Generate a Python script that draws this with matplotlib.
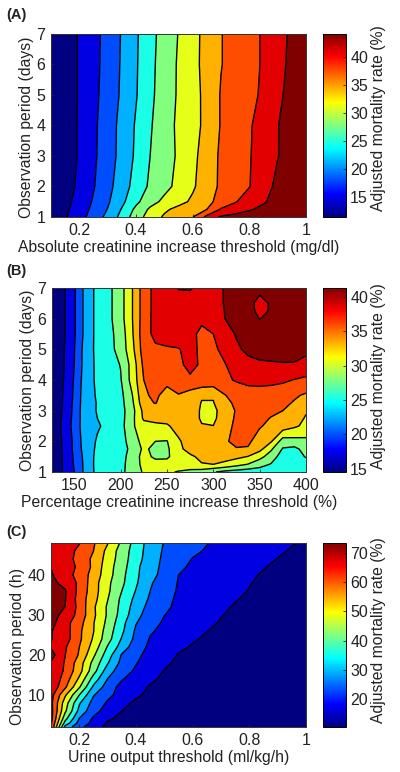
import numpy as np
import matplotlib
matplotlib.use("Agg")
import matplotlib.pyplot as plt
from matplotlib.cm import ScalarMappable
from matplotlib.colors import Normalize, LinearSegmentedColormap

plt.rcParams["font.family"] = ["Liberation Sans", "DejaVu Sans"]

# (A) rate over threshold (columns) and observation period (rows)
a_x = [0.1, 0.15, 0.2, 0.25, 0.3, 0.35, 0.4, 0.45, 0.5, 0.55, 0.6, 0.65, 0.7, 0.75, 0.8, 0.85, 0.9, 0.95, 1.0]
a_y = [1, 1.25, 1.5, 2, 3, 4, 5, 6, 7]
a_z = [
    [12.4, 14.1, 16.3, 18.6, 21.1, 24.3, 27.9, 30.6, 32.6, 33.9, 35.1, 39.0, 41.6, 42.2, 42.8, 43.2, 43.6, 43.9, 44.2],
    [12.2, 13.8, 15.9, 18.1, 20.4, 23.5, 27.0, 29.8, 31.7, 33.0, 34.1, 35.2, 38.5, 39.7, 40.9, 41.9, 43.0, 43.6, 44.2],
    [12.0, 13.5, 15.5, 17.7, 19.9, 22.6, 25.6, 28.2, 30.0, 31.3, 32.7, 34.4, 36.2, 38.0, 39.5, 40.9, 42.3, 43.2, 44.1],
    [11.7, 13.1, 15.0, 17.2, 19.4, 21.8, 24.5, 26.8, 28.4, 30.1, 31.8, 33.8, 35.7, 37.0, 38.1, 40.0, 41.9, 43.0, 44.1],
    [11.5, 12.9, 14.7, 16.9, 19.0, 21.2, 23.8, 26.3, 28.0, 29.7, 31.5, 33.5, 35.7, 36.8, 38.0, 39.6, 41.1, 42.6, 44.0],
    [11.5, 12.9, 14.7, 16.8, 19.0, 21.1, 23.6, 26.0, 28.1, 29.8, 31.3, 32.9, 35.4, 36.6, 37.9, 39.4, 41.1, 42.5, 44.0],
    [11.5, 12.9, 14.65, 16.6, 18.7, 20.7, 23.1, 25.6, 27.9, 29.6, 31.2, 33.0, 35.4, 36.3, 37.4, 38.7, 40.5, 42.3, 44.0],
    [11.5, 12.9, 14.65, 16.5, 18.5, 20.6, 23.0, 25.5, 27.7, 29.6, 31.4, 33.1, 35.1, 36.2, 37.3, 38.5, 40.1, 42.0, 43.8],
    [11.5, 12.9, 14.65, 16.45, 18.4, 20.5, 22.9, 25.35, 27.5, 29.4, 31.3, 33.1, 35.1, 36.2, 37.3, 38.5, 40.0, 41.8, 43.5],
]
a_levels = [14.4, 17.4, 20.3, 23.3, 26.3, 29.3, 32.2, 35.2, 38.2, 41.2]

# (B)
b_x = [125, 137.5, 150, 162.5, 175, 187.5, 200, 212.5, 225, 237.5, 250, 262.5, 275, 287.5, 300, 312.5, 325, 337.5, 350, 362.5, 375, 387.5, 400]
b_y = [1, 1.25, 1.5, 1.75, 2, 2.5, 2.75, 3, 3.25, 3.5, 4, 4.5, 5, 5.5, 6, 6.25, 6.5, 6.75, 7]
b_z = [
    [14.5, 17.0, 19.4, 22.6, 24.9, 25.1, 25.9, 28.1, 29.3, 29.6, 29.5, 28.9, 28.2, 27.9, 26.9, 26.0, 25.6, 25.3, 25.2, 25.0, 24.7, 24.6, 24.5],
    [14.5, 17.0, 19.6, 22.6, 25.0, 25.2, 25.9, 27.9, 29.7, 30.1, 30.3, 30.6, 31.1, 31.5, 31.6, 31.0, 30.0, 29.0, 27.8, 26.5, 25.1, 25.0, 25.4],
    [14.5, 17.0, 19.7, 22.7, 24.9, 25.2, 25.9, 27.6, 30.0, 28.6, 28.6, 30.8, 31.3, 32.0, 32.3, 32.6, 32.2, 31.5, 29.8, 28.0, 25.4, 25.4, 26.9],
    [14.5, 17.1, 19.9, 23.0, 24.6, 25.2, 25.9, 27.2, 29.6, 28.4, 28.6, 31.2, 32.2, 32.8, 33.2, 33.6, 33.9, 33.8, 32.4, 29.4, 26.5, 26.1, 27.6],
    [14.5, 17.1, 19.9, 23.2, 24.4, 25.2, 26.0, 27.5, 30.2, 29.1, 29.0, 31.3, 32.7, 33.0, 33.3, 33.8, 34.4, 34.4, 33.0, 31.8, 27.9, 28.2, 28.5],
    [14.5, 17.4, 20.2, 23.4, 24.0, 24.7, 25.8, 28.7, 30.6, 31.0, 31.3, 32.5, 33.3, 31.7, 31.62, 33.0, 34.6, 35.0, 34.2, 33.4, 33.0, 32.0, 31.0],
    [14.5, 17.2, 20.1, 23.4, 24.2, 24.9, 25.8, 28.4, 32.0, 32.4, 32.4, 32.6, 32.4, 31.4, 31.3, 32.4, 34.5, 35.0, 34.5, 33.9, 33.3, 32.5, 31.4],
    [14.5, 17.1, 20.0, 23.5, 24.3, 25.0, 25.8, 28.2, 32.3, 32.5, 32.5, 32.6, 32.4, 31.4, 31.3, 32.2, 34.3, 34.9, 34.7, 34.4, 34.0, 33.3, 31.8],
    [14.5, 17.0, 19.9, 23.4, 24.3, 25.1, 25.9, 28.6, 33.3, 34.1, 32.9, 33.2, 32.7, 31.5, 31.5, 33.0, 34.7, 35.1, 35.0, 34.8, 34.5, 33.8, 32.9],
    [14.5, 16.9, 19.8, 23.4, 24.4, 25.2, 26.0, 29.0, 33.7, 34.4, 33.2, 33.9, 33.0, 31.8, 31.8, 33.9, 35.0, 35.4, 35.4, 35.3, 34.9, 34.3, 33.7],
    [14.5, 16.7, 19.6, 23.2, 24.6, 25.5, 26.5, 30.0, 34.0, 34.8, 34.6, 35.1, 35.9, 36.0, 35.7, 36.0, 36.6, 37.0, 37.1, 37.0, 36.8, 36.3, 35.8],
    [14.5, 16.5, 19.4, 23.0, 24.7, 25.7, 26.8, 30.0, 34.6, 35.3, 35.5, 35.8, 37.2, 36.0, 35.6, 36.3, 37.4, 38.2, 38.6, 38.7, 38.8, 38.8, 38.5],
    [14.5, 16.5, 19.3, 23.0, 24.8, 26.0, 27.5, 30.9, 35.2, 36.0, 36.2, 36.3, 37.0, 36.0, 36.0, 37.0, 38.5, 39.4, 39.6, 39.6, 39.5, 39.4, 39.2],
    [14.5, 16.3, 19.1, 22.7, 24.9, 26.1, 27.6, 31.3, 35.4, 37.0, 37.2, 37.4, 37.0, 35.9, 36.4, 37.8, 39.1, 39.6, 39.9, 40.0, 40.2, 40.4, 40.6],
    [14.5, 16.3, 19.1, 22.7, 24.9, 26.2, 28.1, 31.5, 35.2, 37.2, 37.6, 37.8, 37.6, 36.8, 37.6, 38.9, 39.5, 39.7, 38.85, 39.4, 40.0, 40.4, 40.7],
    [14.5, 16.3, 19.1, 22.7, 24.9, 26.2, 28.1, 31.5, 35.2, 37.1, 37.7, 37.9, 37.8, 37.4, 37.9, 38.95, 39.55, 39.6, 38.4, 39.1, 40.1, 40.5, 40.8],
    [14.5, 16.3, 19.1, 22.7, 24.9, 26.2, 28.1, 31.5, 35.2, 37.1, 37.8, 38.1, 38.1, 38.1, 38.3, 39.0, 39.6, 39.5, 38.3, 39.1, 40.2, 40.6, 40.9],
    [14.5, 16.3, 19.1, 22.7, 24.9, 26.2, 28.1, 31.5, 35.2, 37.1, 37.9, 38.5, 38.5, 38.1, 38.3, 39.0, 39.65, 39.9, 38.85, 39.8, 40.3, 40.7, 41.0],
    [14.5, 16.3, 19.1, 22.7, 24.9, 26.2, 28.1, 31.5, 35.2, 37.1, 38.0, 39.0, 39.1, 38.2, 38.4, 39.0, 39.7, 40.3, 40.5, 40.4, 40.5, 40.8, 41.0],
]
b_levels = [16.9, 19.4, 21.8, 24.2, 26.7, 29.1, 31.6, 34.0, 36.4, 38.9]

# (C)
c_x = a_x
c_y = [2, 3, 4, 6, 8, 10, 12, 14, 16, 18, 20, 22, 24, 26, 28, 30, 32, 34, 36, 38, 40, 42, 44, 46, 48]
c_z = [
    [62.0, 31.3, 23.6, 18.4, 14.7, 13.3, 12.2, 11.4, 11.0, 10.7, 10.5, 10.4, 10.4, 10.4, 10.4, 10.4, 10.4, 10.4, 10.4],
    [63.0, 36.9, 25.7, 20.3, 15.5, 14.0, 12.8, 12.0, 11.3, 10.8, 10.5, 10.4, 10.4, 10.4, 10.4, 10.4, 10.4, 10.4, 10.4],
    [64.0, 40.6, 27.2, 21.0, 16.8, 14.8, 13.4, 12.4, 11.6, 11.0, 10.6, 10.4, 10.4, 10.4, 10.4, 10.4, 10.4, 10.4, 10.4],
    [64.0, 45.8, 31.5, 23.8, 19.6, 16.1, 14.4, 13.0, 12.0, 11.3, 10.8, 10.5, 10.4, 10.4, 10.4, 10.4, 10.4, 10.4, 10.4],
    [63.5, 47.5, 33.9, 25.6, 21.2, 17.7, 15.1, 13.9, 12.9, 12.0, 11.3, 10.8, 10.5, 10.4, 10.4, 10.4, 10.4, 10.4, 10.4],
    [64.0, 51.3, 39.0, 28.0, 23.2, 19.8, 16.9, 15.0, 13.7, 12.7, 11.9, 11.3, 10.8, 10.5, 10.4, 10.4, 10.4, 10.4, 10.4],
    [66.5, 57.2, 45.4, 32.2, 25.0, 20.0, 18.2, 15.6, 14.2, 13.2, 12.3, 11.6, 11.0, 10.7, 10.5, 10.4, 10.4, 10.4, 10.4],
    [67.0, 59.3, 49.5, 36.5, 27.5, 22.3, 19.5, 17.1, 15.1, 14.0, 13.0, 12.2, 11.5, 11.1, 10.8, 10.6, 10.5, 10.4, 10.4],
    [67.5, 60.9, 52.6, 41.3, 30.1, 24.5, 21.0, 18.4, 15.9, 14.8, 13.8, 12.9, 12.1, 11.5, 11.0, 10.7, 10.5, 10.4, 10.4],
    [67.0, 61.4, 53.3, 43.0, 33.7, 25.9, 22.2, 19.2, 16.9, 15.3, 14.3, 13.3, 12.5, 11.8, 11.3, 10.9, 10.6, 10.5, 10.4],
    [70.0, 62.0, 55.6, 45.8, 36.0, 27.1, 23.0, 20.3, 18.1, 15.8, 14.8, 13.8, 12.9, 12.2, 11.6, 11.1, 10.8, 10.6, 10.5],
    [67.2, 62.5, 56.2, 48.3, 38.5, 30.8, 24.3, 20.9, 19.0, 17.0, 15.7, 14.6, 13.6, 12.8, 12.1, 11.5, 11.0, 10.7, 10.5],
    [68.0, 64.3, 57.3, 49.8, 41.3, 32.8, 26.0, 21.5, 19.9, 18.3, 16.6, 15.4, 14.4, 13.4, 12.6, 11.9, 11.3, 10.9, 10.6],
    [68.0, 64.5, 57.3, 50.7, 42.0, 34.4, 26.6, 22.5, 20.6, 19.2, 17.5, 16.2, 15.0, 14.0, 13.1, 12.3, 11.6, 11.1, 10.7],
    [69.5, 64.0, 58.3, 50.8, 43.3, 35.1, 27.9, 23.8, 21.2, 20.0, 18.5, 17.1, 15.7, 14.7, 13.7, 12.8, 12.0, 11.3, 10.8],
    [69.8, 66.0, 59.9, 51.6, 44.0, 36.6, 29.6, 24.5, 22.0, 20.5, 19.0, 17.7, 16.3, 15.2, 14.2, 13.2, 12.3, 11.5, 10.9],
    [70.5, 67.6, 60.1, 51.4, 44.0, 37.3, 30.5, 25.8, 22.8, 20.9, 19.5, 18.3, 16.9, 15.7, 14.7, 13.7, 12.7, 11.7, 11.0],
    [70.3, 68.0, 59.5, 52.5, 45.0, 37.7, 31.8, 26.8, 23.3, 21.1, 19.9, 18.8, 17.6, 16.4, 15.3, 14.3, 13.3, 12.3, 11.4],
    [70.0, 68.2, 60.2, 53.0, 45.9, 39.0, 33.0, 27.6, 24.0, 21.4, 20.3, 19.2, 18.2, 17.2, 15.9, 14.9, 13.9, 12.9, 11.9],
    [69.2, 66.0, 60.8, 53.0, 46.1, 40.1, 34.0, 28.2, 24.8, 21.6, 20.5, 19.4, 18.5, 17.5, 16.3, 15.3, 14.3, 13.3, 12.3],
    [68.3, 64.2, 60.0, 53.9, 47.2, 40.6, 34.3, 29.6, 25.6, 21.9, 20.7, 19.7, 18.8, 17.9, 16.7, 15.7, 14.7, 13.7, 12.7],
    [67.6, 64.2, 61.0, 54.9, 47.3, 41.4, 34.6, 29.7, 26.3, 22.7, 21.2, 20.2, 19.3, 18.4, 17.4, 16.3, 15.3, 14.3, 13.3],
    [67.0, 64.0, 60.3, 54.9, 48.3, 41.8, 35.6, 30.4, 26.5, 24.0, 21.7, 20.7, 19.8, 18.9, 18.0, 17.0, 16.0, 14.9, 13.9],
    [66.5, 64.1, 60.8, 56.2, 48.8, 42.2, 36.0, 30.7, 26.9, 24.8, 22.9, 21.4, 20.5, 19.6, 18.6, 17.7, 16.7, 15.7, 14.7],
    [66.0, 64.2, 62.1, 56.8, 50.8, 43.7, 36.4, 31.0, 27.3, 25.6, 23.8, 22.1, 21.1, 20.2, 19.2, 18.3, 17.4, 16.4, 15.4],
]
c_levels = [16.1, 21.9, 27.6, 33.3, 39.0, 44.8, 50.5, 56.2, 61.9, 67.7]

W, H = 400.0, 772.0
panels = [
    dict(letter="(A)", letter_y=15, x=a_x, y=a_y, z=a_z, levels=a_levels, crange=(11.4, 44.2),
         xlim=(0.1, 1), ylim=(1, 7), xticks=[0.2, 0.4, 0.6, 0.8, 1], xlabels=["0.2", "0.4", "0.6", "0.8", "1"],
         yticks=[1, 2, 3, 4, 5, 6, 7], cticks=[15, 20, 25, 30, 35, 40],
         xlabel="Absolute creatinine increase threshold (mg/dl)", ylabel="Observation period (days)",
         top=33.5, bottom=217, left=51, ylabel_y=0.49, clabel_y=0.54),
    dict(letter="(B)", letter_y=271, x=b_x, y=b_y, z=b_z, levels=b_levels, crange=(14.5, 41.3),
         xlim=(126, 400), ylim=(1, 7), xticks=[150, 200, 250, 300, 350, 400], xlabels=["150", "200", "250", "300", "350", "400"],
         yticks=[1, 2, 3, 4, 5, 6, 7], cticks=[15, 20, 25, 30, 35, 40],
         xlabel="Percentage creatinine increase threshold (%)", ylabel="Observation period (days)",
         top=288, bottom=472, left=52, ylabel_y=0.5, clabel_y=0.52),
    dict(letter="(C)", letter_y=532, x=c_x, y=c_y, z=c_z, levels=c_levels, crange=(10.4, 73.4),
         xlim=(0.1, 1), ylim=(2, 48), xticks=[0.2, 0.4, 0.6, 0.8, 1], xlabels=["0.2", "0.4", "0.6", "0.8", "1"],
         yticks=[10, 20, 30, 40], cticks=[20, 30, 40, 50, 60, 70],
         xlabel="Urine output threshold (ml/kg/h)", ylabel="Observation period (h)",
         top=543, bottom=727, left=51, ylabel_y=0.44, clabel_y=0.525),
]

# MATLAB flavour of jet, a bit different from matplotlib's
jet = LinearSegmentedColormap.from_list("matlab_jet", [
    (0, (0, 0, 0.5)), (0.125, (0, 0, 1)), (0.375, (0, 1, 1)),
    (0.625, (1, 1, 0)), (0.875, (1, 0, 0)), (1, (0.5, 0, 0))])
band_colors = jet(np.linspace(0, 1, 11))

fig = plt.figure(figsize=(W / 100, H / 100), dpi=100)

for p in panels:
    ax = fig.add_axes([p["left"] / W, 1 - p["bottom"] / H, (306 - p["left"]) / W, (p["bottom"] - p["top"]) / H])
    lo, hi = p["crange"]
    bounds = [lo - 5] + p["levels"] + [hi + 5]
    ax.contourf(p["x"], p["y"], np.array(p["z"]), levels=bounds, colors=band_colors)
    ax.contour(p["x"], p["y"], np.array(p["z"]), levels=p["levels"], colors="black", linewidths=1.0)
    ax.set_xlim(p["xlim"])
    ax.set_ylim(p["ylim"])
    ax.set_xticks(p["xticks"])
    ax.set_xticklabels(p["xlabels"])
    ax.set_yticks(p["yticks"])
    ax.tick_params(direction="in", length=2.5, width=0.6, labelsize=11.5, pad=4, colors="#222222")
    ax.set_xlabel(p["xlabel"], fontsize=11.3, labelpad=1.8, color="#222222")
    ax.set_ylabel(p["ylabel"], fontsize=11.3, labelpad=2, color="#222222", y=p["ylabel_y"])
    for s in ax.spines.values():
        s.set_linewidth(0.7)
        s.set_color("#333333")

    cax = fig.add_axes([323 / W, 1 - p["bottom"] / H, 23 / W, (p["bottom"] - p["top"]) / H])
    cb = fig.colorbar(ScalarMappable(Normalize(lo, hi), cmap=jet), cax=cax)
    cb.set_ticks(p["cticks"])
    cb.ax.tick_params(direction="in", length=2.5, width=0.6, labelsize=11.5, pad=3, colors="#222222")
    cb.set_label("Adjusted mortality rate (%)", fontsize=11.3, labelpad=2, color="#222222", y=p["clabel_y"])
    cb.outline.set_linewidth(0.7)

    fig.text(6 / W, 1 - p["letter_y"] / H, p["letter"], fontsize=10.5, fontweight="bold", va="center", color="#222222")

fig.savefig("out.png", dpi=100)
